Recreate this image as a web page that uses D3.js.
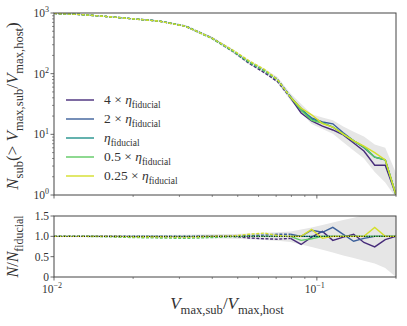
<!DOCTYPE html>
<html>
<head>
<meta charset="utf-8">
<script src="https://cdn.jsdelivr.net/npm/d3@7"></script>
<style>
  body { margin: 0; background: #fff; }
  svg { display: block; font-family: "Liberation Serif", "DejaVu Serif", serif; }
</style>
</head>
<body>
<svg id="svg" width="407" height="326"></svg>
<script>
// Vmax,sub / Vmax,host bin positions
var vratio = [0.0100, 0.0126, 0.0158, 0.0200, 0.0251, 0.0316, 0.0398, 0.0479, 0.0550, 0.0631, 0.0708,
              0.0794, 0.0871, 0.0955, 0.105, 0.115, 0.126, 0.138, 0.151, 0.166, 0.182, 0.200];
var solidFrom = 11; // dashed below this bin, solid above

var labels = ["4 \u00d7 ", "2 \u00d7 ", "", "0.5 \u00d7 ", "0.25 \u00d7 "];
var colors = ["#472c7a", "#3b5f9a", "#22918c", "#5ec962", "#d4df2a"];

// cumulative counts N_sub(>V)
var nEta4   = [985, 945, 876, 800, 735, 605, 385, 232, 150, 104, 74, 40, 22.5, 16.6, 13.7, 11.8, 9.8, 7.2, 5.3, 3.1, 3.1, 1.0];
var nEta2   = [985, 945, 876, 802, 738, 611, 390, 240, 158, 113, 81, 42, 25, 18.7, 16, 14.9, 10.6, 7.8, 6.0, 4.2, 3.8, 1.0];
var nEta1   = [985, 945, 876, 802, 738, 611, 388, 237, 156, 111, 79, 41, 27, 17.9, 15.4, 13.2, 10.1, 7.8, 6.2, 4.2, 3.8, 1.0];
var nEta05  = [985, 945, 876, 800, 735, 605, 380, 235, 156, 111, 79, 41, 25, 17, 15.4, 13.2, 10.1, 7.8, 6.2, 4.2, 3.8, 1.0];
var nEta025 = [985, 945, 876, 800, 735, 605, 388, 245, 165, 118, 80, 41, 27, 21, 15, 13.2, 10.1, 7.8, 6.4, 5.0, 3.8, 1.0];
var nBandLo = [970, 930, 860, 785, 718, 590, 370, 222, 144, 101, 71, 36, 23, 14.8, 12.3, 10.2, 7.4, 5.4, 4.0, 2.4, 1.6, 0.9];
var nBandHi = [1000, 960, 892, 820, 758, 632, 408, 253, 169, 122, 88, 47, 31.5, 21.5, 19, 17, 13.5, 11, 9.2, 6.8, 6.0, 2.3];

// ratios N / N_fiducial
var rEta4   = [1, 1, 1, 0.99, 0.99, 0.99, 1, 1, 0.96, 0.94, 0.93, 0.95, 0.8, 0.98, 1.12, 0.9, 0.98, 1.05, 0.85, 0.74, 0.92, 1.0];
var rEta2   = [1, 1, 1, 1, 1, 1, 1, 1.01, 1.02, 1.03, 1.05, 1.05, 1.0, 1.15, 1.1, 1.22, 1.05, 0.88, 0.95, 1.0, 1.0, 1.0];
var rEta1   = [1, 1, 1, 1, 1, 1, 1, 1, 1, 1, 1, 1, 1, 1, 1, 1, 1, 1, 1, 1, 1, 1];
var rEta05  = [1, 1, 0.99, 0.97, 0.96, 0.95, 0.97, 0.99, 1, 1, 1, 1, 0.9, 0.94, 1, 1, 1, 1, 1, 1, 1, 1];
var rEta025 = [1, 1, 1, 0.99, 0.99, 0.98, 1, 1.01, 1.05, 1.08, 1.02, 1, 1, 1.17, 0.95, 1, 1, 1, 1, 1.22, 1, 1];
var rBandLo = [0.985, 0.98, 0.975, 0.97, 0.965, 0.96, 0.95, 0.94, 0.93, 0.91, 0.89, 0.86, 0.8, 0.74, 0.67, 0.6, 0.53, 0.47, 0.4, 0.33, 0.22, 0.0];
var rBandHi = [1.015, 1.02, 1.025, 1.03, 1.035, 1.04, 1.05, 1.06, 1.07, 1.09, 1.1, 1.12, 1.17, 1.22, 1.28, 1.34, 1.4, 1.46, 1.52, 1.58, 1.62, 1.62];

var topSeries = [nEta4, nEta2, nEta1, nEta05, nEta025];
var botSeries = [rEta4, rEta2, rEta1, rEta05, rEta025];

var yTopTicks = [1, 10, 100, 1000];
var yBotTicks = [0, 0.5, 1.0, 1.5];
var yBotTickText = ["0", "0.5", "1.0", "1.5"];

var left = 54, right = 396;
var topY0 = 13, topY1 = 195;
var botY0 = 216, botY1 = 277;
var axisColor = "#444";
var textColor = "#333";

var svg = d3.select("#svg");

var x = d3.scaleLog().domain([0.01, 0.2]).range([left, right]);
var yTop = d3.scaleLog().domain([1, 1000]).range([topY1, topY0]);
var yBot = d3.scaleLinear().domain([0, 1.5]).range([botY1, botY0]);

// little latex-ish text helper
var tex = function(sel, parts, fs, subScale) {
    var shift = 0;
    subScale = subScale || 0.7;
    parts.forEach(function(p) {
        var target = 0, size = fs, style = "normal";
        if (p[1] === "i") style = "italic";
        if (p[1] === "sub") { target = fs * 0.3; size = fs * subScale; }
        if (p[1] === "sup") { target = -fs * 0.42; size = fs * subScale; }
        sel.append("tspan").text(p[0])
            .attr("dy", target - shift)
            .attr("font-size", size)
            .attr("font-style", style);
        shift = target;
    });
};

var defs = svg.append("defs");
defs.append("clipPath").attr("id", "clipTop").append("rect")
    .attr("x", left).attr("y", topY0).attr("width", right - left).attr("height", topY1 - topY0);
defs.append("clipPath").attr("id", "clipBot").append("rect")
    .attr("x", left).attr("y", botY0).attr("width", right - left).attr("height", botY1 - botY0);

var drawPanel = function(y, series, lo, hi, clipId) {
    var g = svg.append("g").attr("clip-path", "url(#" + clipId + ")");
    var idx = d3.range(vratio.length);
    var area = d3.area()
        .x(function(i) { return x(vratio[i]); })
        .y0(function(i) { return y(lo[i]); })
        .y1(function(i) { return y(hi[i]); });
    g.append("path").datum(idx).attr("d", area).attr("fill", "#e6e6e6");

    series.forEach(function(vals, k) {
        var line = d3.line()
            .x(function(i) { return x(vratio[i]); })
            .y(function(i) { return y(vals[i]); });
        g.append("path").datum(idx.slice(0, solidFrom + 1))
            .attr("d", line).attr("fill", "none")
            .attr("stroke", colors[k]).attr("stroke-width", 1.4)
            .attr("stroke-dasharray", "3,1.6");
        g.append("path").datum(idx.slice(solidFrom))
            .attr("d", line).attr("fill", "none")
            .attr("stroke", colors[k]).attr("stroke-width", 1.4);
    });
    return g;
};

drawPanel(yTop, topSeries, nBandLo, nBandHi, "clipTop");
var gb = drawPanel(yBot, botSeries, rBandLo, rBandHi, "clipBot");
gb.append("line")
    .attr("x1", left).attr("x2", right)
    .attr("y1", yBot(1)).attr("y2", yBot(1))
    .attr("stroke", "#000").attr("stroke-width", 1)
    .attr("stroke-dasharray", "1,1.5");

// x ticks (both panels)
var xMajor = [0.01, 0.1];
var xMinor = [0.02, 0.03, 0.04, 0.05, 0.06, 0.07, 0.08, 0.09, 0.2];
[topY1, botY1].forEach(function(yy) {
    xMajor.forEach(function(v) {
        svg.append("line").attr("x1", x(v)).attr("x2", x(v)).attr("y1", yy).attr("y2", yy + 3.5)
            .attr("stroke", axisColor).attr("stroke-width", 0.8);
    });
    xMinor.forEach(function(v) {
        svg.append("line").attr("x1", x(v)).attr("x2", x(v)).attr("y1", yy).attr("y2", yy + 2)
            .attr("stroke", axisColor).attr("stroke-width", 0.6);
    });
});

// y ticks top (log)
yTopTicks.forEach(function(v) {
    svg.append("line").attr("x1", left - 3.5).attr("x2", left).attr("y1", yTop(v)).attr("y2", yTop(v))
        .attr("stroke", axisColor).attr("stroke-width", 0.8);
    if (v < 1000) {
        d3.range(2, 10).forEach(function(m) {
            svg.append("line").attr("x1", left - 2).attr("x2", left)
                .attr("y1", yTop(v * m)).attr("y2", yTop(v * m))
                .attr("stroke", axisColor).attr("stroke-width", 0.6);
        });
    }
    var t = svg.append("text").attr("x", left - 5).attr("y", yTop(v) + 4)
        .attr("text-anchor", "end").attr("fill", textColor);
    tex(t, [["10", "r"], [String(Math.round(Math.log10(v))), "sup"]], 11.5);
});

// y ticks bottom
yBotTicks.forEach(function(v, i) {
    svg.append("line").attr("x1", left - 3.5).attr("x2", left).attr("y1", yBot(v)).attr("y2", yBot(v))
        .attr("stroke", axisColor).attr("stroke-width", 0.8);
    svg.append("text").attr("x", left - 5).attr("y", yBot(v) + 4)
        .attr("text-anchor", "end").attr("fill", textColor)
        .attr("font-size", 11.5).text(yBotTickText[i]);
});

// x tick labels
[[0.01, "\u22122"], [0.1, "\u22121"]].forEach(function(d) {
    var t = svg.append("text").attr("x", x(d[0]) - 2).attr("y", botY1 + 16)
        .attr("text-anchor", "middle").attr("fill", textColor);
    tex(t, [["10", "r"], [d[1], "sup"]], 11.5);
});

// frames
[[topY0, topY1], [botY0, botY1]].forEach(function(p) {
    svg.append("rect").attr("x", left).attr("y", p[0])
        .attr("width", right - left).attr("height", p[1] - p[0])
        .attr("fill", "none").attr("stroke", axisColor).attr("stroke-width", 1);
});

// axis labels
var xl = svg.append("text").attr("x", 227).attr("y", 309)
    .attr("text-anchor", "middle").attr("fill", textColor);
tex(xl, [["V", "i"], ["max,sub", "sub"], ["/", "r"], ["V", "i"], ["max,host", "sub"]], 17, 0.74);

var yl = svg.append("text").attr("transform", "translate(18," + ((topY0 + topY1) / 2 + 2) + ") rotate(-90)")
    .attr("text-anchor", "middle").attr("fill", textColor);
tex(yl, [["N", "i"], ["sub", "sub"], ["(> ", "r"], ["V", "i"], ["max,sub", "sub"], ["/", "r"],
         ["V", "i"], ["max,host", "sub"], [")", "r"]], 17, 0.74);

var yl2 = svg.append("text").attr("transform", "translate(18," + ((botY0 + botY1) / 2) + ") rotate(-90)")
    .attr("text-anchor", "middle").attr("fill", textColor);
tex(yl2, [["N", "i"], ["/", "r"], ["N", "i"], ["fiducial", "sub"]], 16, 0.74);

// legend
labels.forEach(function(lab, k) {
    var yy = 100 + k * 19;
    svg.append("line").attr("x1", 66).attr("x2", 94).attr("y1", yy).attr("y2", yy)
        .attr("stroke", colors[k]).attr("stroke-width", 1.4);
    var t = svg.append("text").attr("x", 104).attr("y", yy + 4).attr("fill", textColor);
    var parts = [];
    if (lab) parts.push([lab, "r"]);
    parts.push(["\u03b7", "i"]);
    parts.push(["fiducial", "sub"]);
    tex(t, parts, 13.5);
});
</script>
</body>
</html>
